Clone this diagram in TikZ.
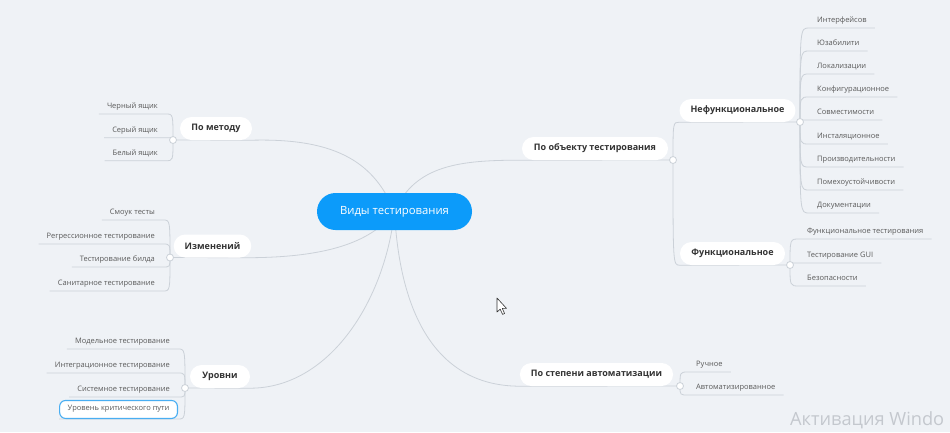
\documentclass[tikz,border=0pt]{standalone}
\usepackage{fontspec}
\setmainfont{Open Sans}
\definecolor{bgc}{HTML}{EFF2F6}
\definecolor{edgec}{HTML}{CBD1D8}
\definecolor{rootblue}{HTML}{0C9BFA}
\definecolor{txtdark}{HTML}{333333}
\definecolor{txtleaf}{HTML}{5A5A5A}
\definecolor{selblue}{HTML}{49AEF2}
\definecolor{wmc}{HTML}{C4C8CE}
\pgfdeclarelayer{bglayer}\pgfdeclarelayer{edgelayer}
\pgfsetlayers{bglayer,edgelayer,main}
\begin{document}
\begin{tikzpicture}[x=1pt,y=-1pt,
  rootnode/.style={fill=rootblue, text=white, rounded corners=18.5pt, minimum height=37pt, minimum width=155pt, inner sep=0pt, font=\fontsize{11.3}{13}\selectfont},
  topic/.style={fill=white, text=txtdark, rounded corners=11.5pt, minimum height=23pt, inner xsep=11pt, inner ysep=0pt, font=\bfseries\fontsize{9}{10}\selectfont},
  leaf/.style={text=txtleaf, inner xsep=8pt, inner ysep=3pt, text height=5.5pt, text depth=2.5pt, font=\fontsize{7.5}{8}\selectfont},
  selleaf/.style={leaf, draw=selblue, fill=white, line width=1.1pt, rounded corners=6pt, inner ysep=5pt},
  link/.style={draw=edgec, line width=0.8pt},
  junc/.style={circle, fill=white, draw=edgec, line width=0.8pt, minimum size=7pt, inner sep=0pt},
]
\useasboundingbox (0,0) rectangle (950,432);
\begin{pgfonlayer}{bglayer}
\fill[bgc] (0,0) rectangle (950,432);
\end{pgfonlayer}

% root and topics
\node[rootnode] (root) at (394.5,211.5) {Виды тестирования};
\node[topic, minimum width=72pt] (metod) at (216,128.5) {По методу};
\node[topic, minimum width=75pt] (izm) at (212.5,246) {Изменений};
\node[topic, minimum width=60pt] (urov) at (220,376.5) {Уровни};
\node[topic, minimum width=146pt] (obj) at (595,148.5) {По объекту тестирования};
\node[topic, minimum width=147pt] (avt) at (596.5,374.5) {По степени автоматизации};
\node[topic, minimum width=115pt] (nf) at (737.5,110.5) {Нефункциональное};
\node[topic, minimum width=105pt] (fn) at (732.5,253.5) {Функциональное};

% leaves left
\node[leaf, anchor=south east] (m1) at (166,114) {Черный ящик};
\node[leaf, anchor=south east] (m2) at (166,137.7) {Серый ящик};
\node[leaf, anchor=south east] (m3) at (166,160.7) {Белый ящик};
\node[leaf, anchor=south east] (i1) at (163,220) {Смоук тесты};
\node[leaf, anchor=south east] (i2) at (163,244) {Регрессионное тестирование};
\node[leaf, anchor=south east] (i3) at (163,267) {Тестирование билда};
\node[leaf, anchor=south east] (i4) at (163,291) {Санитарное тестирование};
\node[leaf, anchor=south east] (u1) at (178,349) {Модельное тестирование};
\node[leaf, anchor=south east] (u2) at (178,373) {Интеграционное тестирование};
\node[leaf, anchor=south east] (u3) at (178,397) {Системное тестирование};
\node[selleaf, anchor=south east] (u4) at (178,419) {Уровень критического пути};

% leaves right
\node[leaf, anchor=south west] (n1) at (809,28) {Интерфейсов};
\node[leaf, anchor=south west] (n2) at (809,51) {Юзабилити};
\node[leaf, anchor=south west] (n3) at (809,74) {Локализации};
\node[leaf, anchor=south west] (n4) at (809,97) {Конфигурационное};
\node[leaf, anchor=south west] (n5) at (809,120) {Совместимости};
\node[leaf, anchor=south west] (n6) at (809,144) {Инсталяционное};
\node[leaf, anchor=south west] (n7) at (809,167) {Производительности};
\node[leaf, anchor=south west] (n8) at (809,190) {Помехоустойчивости};
\node[leaf, anchor=south west] (n9) at (809,213) {Документации};
\node[leaf, anchor=south west] (f1) at (799,239) {Функциональное тестирования};
\node[leaf, anchor=south west] (f2) at (799,263) {Тестирование GUI};
\node[leaf, anchor=south west] (f3) at (799,286) {Безопасности};
\node[leaf, anchor=south west] (a1) at (688,372) {Ручное};
\node[leaf, anchor=south west] (a2) at (688,395) {Автоматизированное};

% junctions
\node[junc] (jm) at (173,140) {};
\node[junc] (ji) at (170,257.5) {};
\node[junc] (ju) at (185,388) {};
\node[junc] (jo) at (673,160) {};
\node[junc] (jnf) at (800,122) {};
\node[junc] (jf) at (790,265) {};
\node[junc] (js) at (680,386) {};

\begin{pgfonlayer}{edgelayer}
% root to topics
\draw[link] (jm.center) -- (metod.south east) .. controls (340,138) and (375,165) .. (root.center);
\draw[link] (ji.center) -- (izm.south east) .. controls (320,257) and (370,245) .. (root.center);
\draw[link] (ju.center) -- (urov.south east) .. controls (330,388) and (385,300) .. (root.center);
\draw[link] (root.center) .. controls (415,165) and (460,160) .. (obj.south west) -- (jo.center);
\draw[link] (root.center) .. controls (400,320) and (440,386) .. (avt.south west) -- (js.center);
\draw[link] (jo.center) .. controls (jo.center |- nf.south west) .. (nf.south west) -- (jnf.center);
\draw[link] (jo.center) .. controls (jo.center |- fn.south west) .. (fn.south west) -- (jf.center);
% left leaves
\foreach \l in {m1,m2,m3}{
  \draw[link] (jm.center) .. controls (jm.center |- \l.south east) .. (\l.south east) -- (\l.south west);}
\foreach \l in {i1,i2,i3,i4}{
  \draw[link] (ji.center) .. controls (ji.center |- \l.south east) .. (\l.south east) -- (\l.south west);}
\foreach \l in {u1,u2,u3,u4}{
  \draw[link] (ju.center) .. controls (ju.center |- \l.south east) .. (\l.south east) -- (\l.south west);}
% right leaves
\foreach \l in {n1,n2,n3,n4,n5,n6,n7,n8,n9}{
  \draw[link] (jnf.center) .. controls (jnf.center |- \l.south west) .. (\l.south west) -- (\l.south east);}
\foreach \l in {f1,f2,f3}{
  \draw[link] (jf.center) .. controls (jf.center |- \l.south west) .. (\l.south west) -- (\l.south east);}
\foreach \l in {a1,a2}{
  \draw[link] (js.center) .. controls (js.center |- \l.south west) .. (\l.south west) -- (\l.south east);}
\end{pgfonlayer}

% mouse pointer
\draw[fill=white, draw=black!80, line width=0.6pt, line join=round]
  (497,298) -- (497,312) -- (500.2,309.2) -- (502.6,314.4) -- (504.6,313.5) -- (502.3,308.4) -- (506.5,308.4) -- cycle;

% watermark
\node[anchor=base west, text=wmc, inner sep=0pt, font=\fontsize{18.2}{21}\selectfont] (wmk) at (790,425) {Активация Windo};
\end{tikzpicture}
\end{document}
